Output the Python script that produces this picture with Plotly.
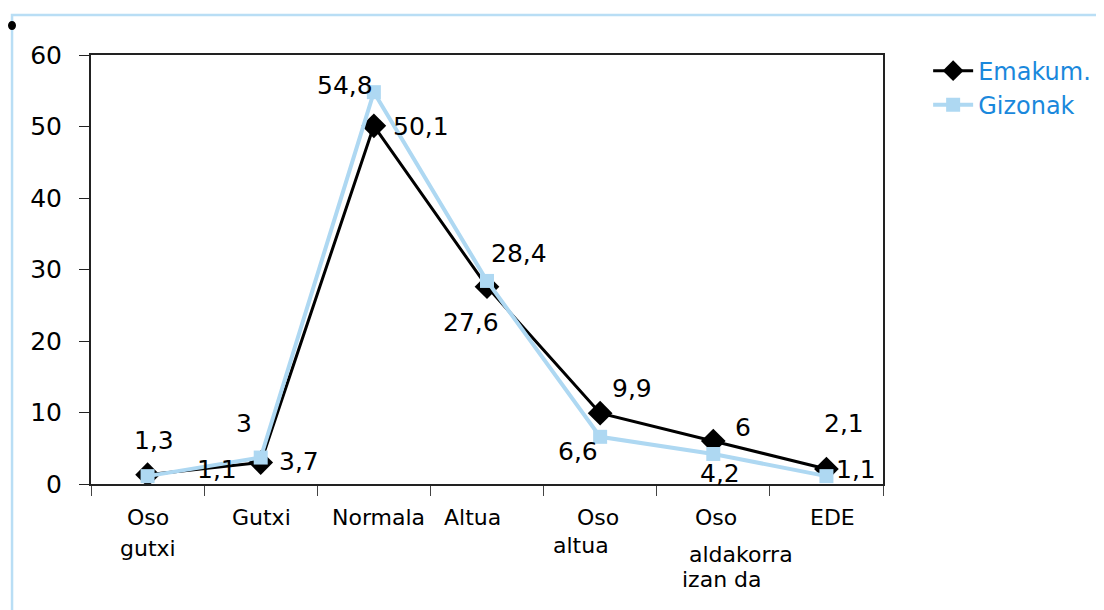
import plotly.graph_objects as go

categories = ["Oso gutxi", "Gutxi", "Normala", "Altua", "Oso altua", "Oso aldakorra izan da", "EDE"]
category_lines = [["Oso", "gutxi"], ["Gutxi"], ["Normala"], ["Altua"], ["Oso", "altua"],
                  ["Oso", "aldakorra", "izan da"], ["EDE"]]
emakum = [1.3, 3, 50.1, 27.6, 9.9, 6, 2.1]
gizonak = [1.1, 3.7, 54.8, 28.4, 6.6, 4.2, 1.1]
y_ticks = [0, 10, 20, 30, 40, 50, 60]

# style: label offsets in pixels (dx, dy down-positive)
emakum_off = [(6, -34), (-17, -39), (47, 1), (-16, 36), (32, -25), (30, -14), (18, -45)]
gizonak_off = [(69, -7), (38, 4), (-29, -7), (32, -27), (-22, 15), (7, 20), (30, -7)]
# style: category line placement (dx, dy below axis) per line
cat_line_off = [[(0, 33), (0, 64)], [(1, 33)], [(5, 33)], [(-15, 33)], [(-2, 33), (-19, 61)],
                [(3, 33), (28, 70), (9, 95)], [(6, 33)]]

FONT = "DejaVu Sans"
BLACK = "#000000"
BLUE = "#aed8f2"


def fmt(v):
    s = ("%g" % v)
    return s.replace(".", ",")


fig = go.Figure()
fig.add_trace(go.Scatter(x=categories, y=emakum, name="Emakum.", mode="lines+markers",
                         line=dict(color=BLACK, width=3),
                         marker=dict(symbol="diamond", size=19, color=BLACK)))
fig.add_trace(go.Scatter(x=categories, y=gizonak, name="Gizonak", mode="lines+markers",
                         line=dict(color=BLUE, width=4),
                         marker=dict(symbol="square", size=14, color=BLUE)))

annotations = []
for series, offs in ((emakum, emakum_off), (gizonak, gizonak_off)):
    for c, v, (dx, dy) in zip(categories, series, offs):
        annotations.append(dict(x=c, y=v, xref="x", yref="y", text=fmt(v), showarrow=False,
                                xshift=dx, yshift=-dy, xanchor="center", yanchor="middle",
                                font=dict(family=FONT, size=25, color=BLACK)))
for c, lines, offs in zip(categories, category_lines, cat_line_off):
    for t, (dx, dy) in zip(lines, offs):
        annotations.append(dict(x=c, y=0, xref="x", yref="y", text=t, showarrow=False,
                                xshift=dx, yshift=-dy, xanchor="center", yanchor="middle",
                                font=dict(family=FONT, size=22, color=BLACK)))

fig.update_layout(
    width=1096, height=602,
    margin=dict(l=83, r=221, t=47, b=126, autoexpand=False),
    paper_bgcolor="white", plot_bgcolor="white",
    font=dict(family=FONT, size=25, color=BLACK),
    showlegend=True,
    legend=dict(x=1.057, y=1.015, xanchor="left", yanchor="top",
                font=dict(family=FONT, size=24, color="#1a88dc"),
                bgcolor="rgba(0,0,0,0)", tracegroupgap=0, itemwidth=40),
    annotations=annotations,
    shapes=[
        dict(type="rect", xref="paper", yref="paper", x0=-0.0997, x1=2.0, y0=-1.0, y1=1.0932,
             line=dict(color="#b9def5", width=2.5), fillcolor="rgba(0,0,0,0)", layer="below"),
        dict(type="circle", xref="paper", yref="paper", x0=-0.1048, x1=-0.0947, y0=1.0583, y1=1.0793,
             line=dict(color=BLACK, width=0), fillcolor=BLACK),
    ],
)
fig.update_xaxes(type="category", range=[-0.5, 6.5], showgrid=False, showticklabels=False,
                 showline=True, linecolor="#222222", linewidth=2, mirror=True,
                 ticks="outside", tickson="boundaries", ticklen=10, tickcolor="#444444",
                 zeroline=False)
fig.update_yaxes(range=[0, 60], tickvals=y_ticks, ticktext=[str(t) for t in y_ticks],
                 showgrid=False, showline=True, linecolor="#222222", linewidth=2, mirror=True,
                 ticks="outside", ticklen=10, tickcolor="#222222", ticklabelstandoff=12,
                 tickfont=dict(family=FONT, size=25, color=BLACK), zeroline=False)

fig.write_html("out.html")
